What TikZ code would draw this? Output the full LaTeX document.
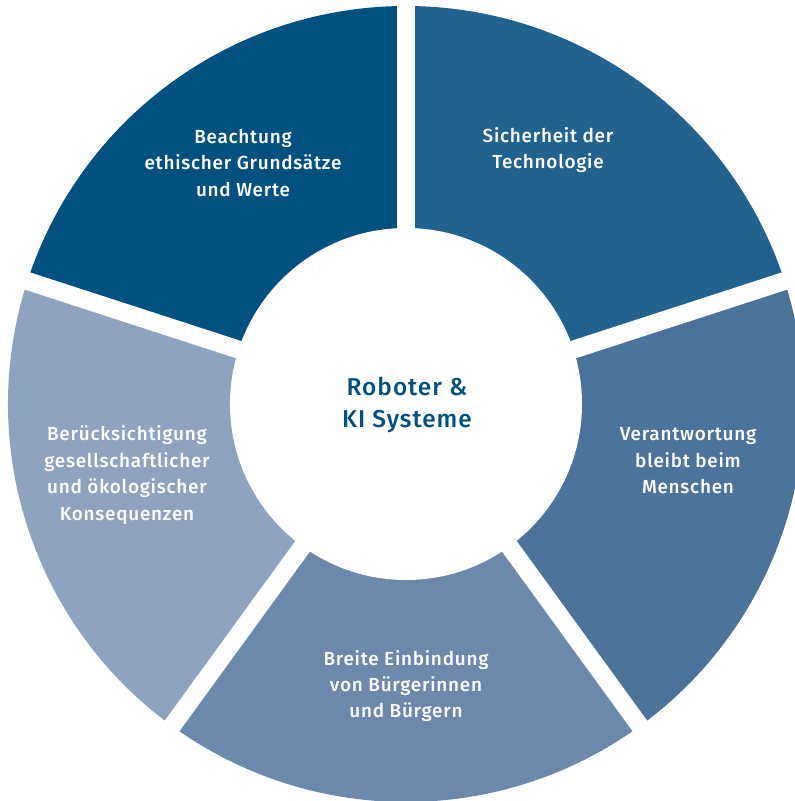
\documentclass[tikz,border=0pt]{standalone}
\usepackage{fontspec}
\setmainfont{Fira Sans}[BoldFont={Fira Sans Medium},LetterSpace=4]
\definecolor{segethik}{HTML}{005180}
\definecolor{segsicher}{HTML}{21628F}
\definecolor{segverant}{HTML}{4C7399}
\definecolor{segbuerger}{HTML}{6C89AC}
\definecolor{segfolgen}{HTML}{8EA3BF}
\tikzset{
  seglabel/.style={text=white,font=\bfseries\fontsize{19}{26.5}\selectfont,align=center},
  midlabel/.style={text=segethik,font=\bfseries\fontsize{24.5}{33}\selectfont,align=center}
}
\begin{document}
\begin{tikzpicture}[x=1bp,y=1bp]
\useasboundingbox (-406,-397) rectangle (389,404);
\fill [segsicher] (0,0) -- (18:398) arc (18:90:398) -- cycle;
\fill [segverant] (0,0) -- (-54:398) arc (-54:18:398) -- cycle;
\fill [segbuerger] (0,0) -- (-126:398) arc (-126:-54:398) -- cycle;
\fill [segfolgen] (0,0) -- (162:398) arc (162:234:398) -- cycle;
\fill [segethik] (0,0) -- (90:398) arc (90:162:398) -- cycle;
\foreach \a in {90,18,-54,-126,162}
  \draw [white,line width=18bp] (0,0) -- (\a:420);
\fill [white] (0,0) circle (176);
\node [midlabel] (mitte) at (1,-1) {Roboter \&\\KI Systeme};
\node [seglabel] (ethik) at (-163,241) {Beachtung\\ethischer Grundsätze\\und Werte};
\node [seglabel] (sicher) at (142,254) {Sicherheit der\\Technologie};
\node [seglabel] (verant) at (282,-57) {Verantwortung\\bleibt beim\\Menschen};
\node [seglabel] (buerger) at (0,-282) {Breite Einbindung\\von Bürgerinnen\\und Bürgern};
\node [seglabel] (folgen) at (-279,-71) {Berücksichtigung\\gesellschaftlicher\\und ökologischer\\Konsequenzen};
\end{tikzpicture}
\end{document}
